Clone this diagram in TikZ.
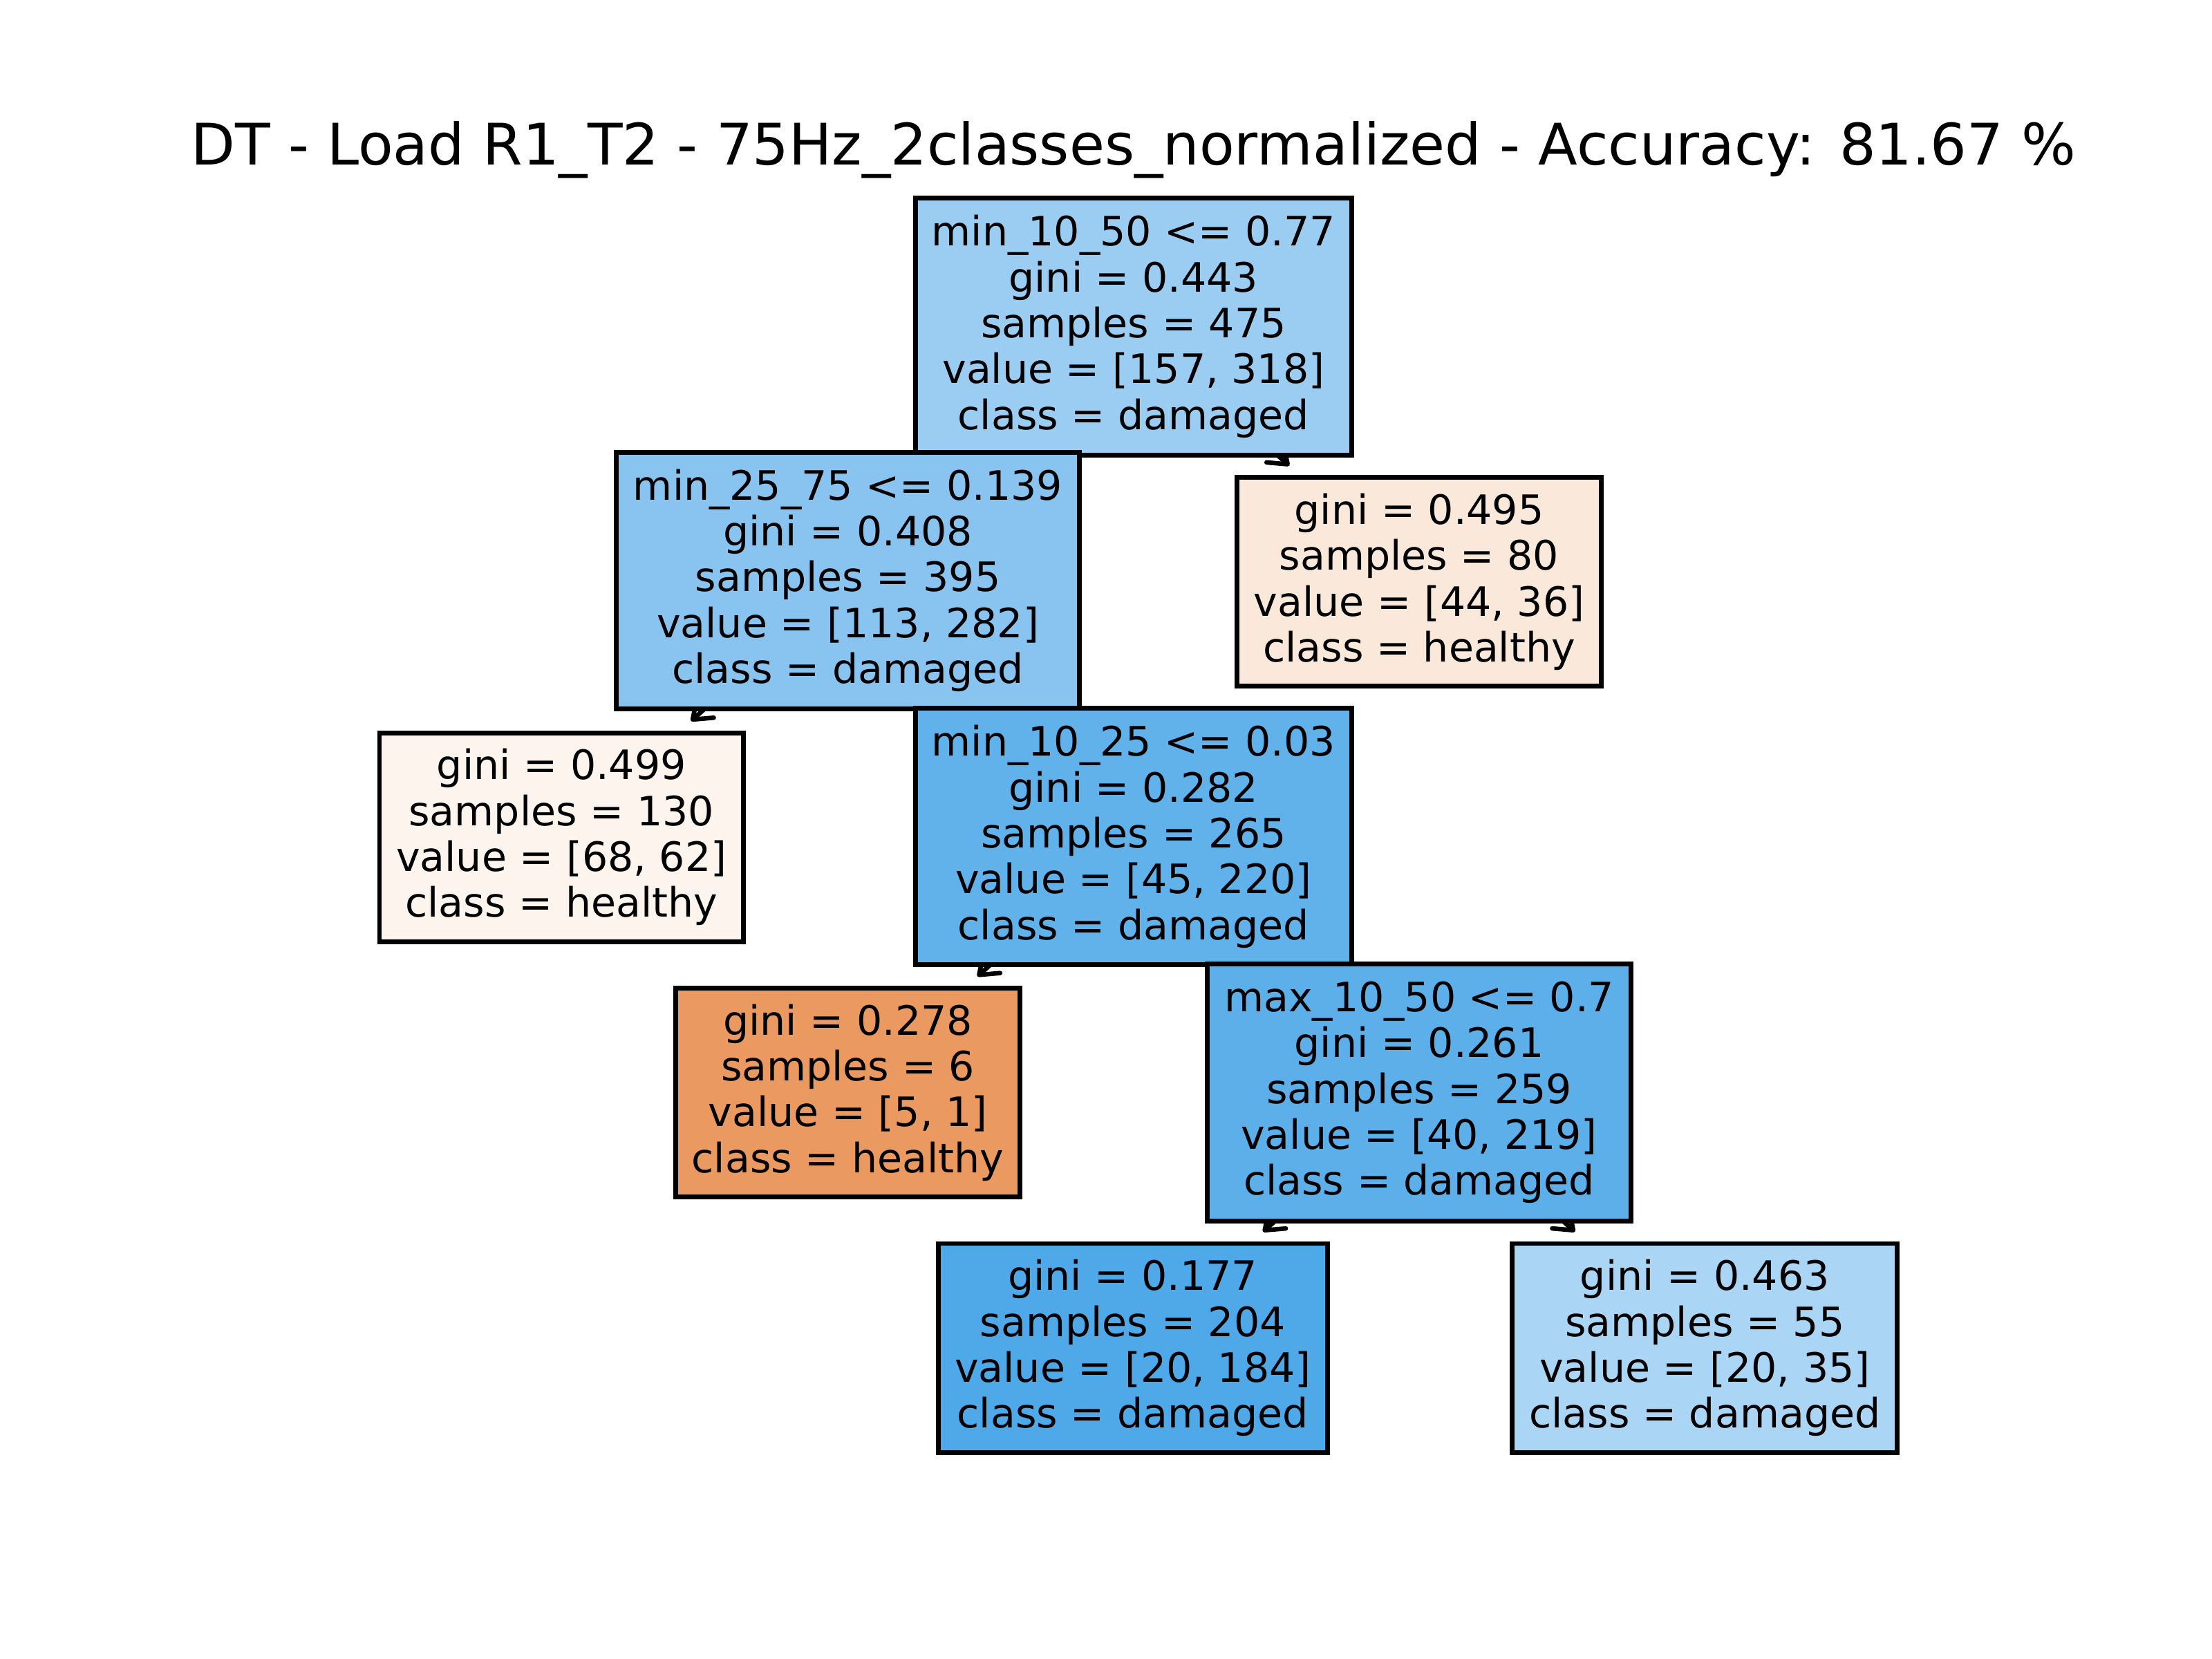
\documentclass[tikz,border=0pt]{standalone}
\usepackage{fontspec}
\setmainfont{DejaVu Sans}
\usetikzlibrary{arrows.meta,backgrounds}
\definecolor{c1}{RGB}{155,205,242}
\definecolor{c2}{RGB}{136,196,239}
\definecolor{c3}{RGB}{250,232,219}
\definecolor{c4}{RGB}{253,244,238}
\definecolor{c5}{RGB}{97,177,234}
\definecolor{c6}{RGB}{234,154,97}
\definecolor{c7}{RGB}{93,175,234}
\definecolor{c8}{RGB}{79,168,232}
\definecolor{c9}{RGB}{170,213,244}
\tikzset{
  box/.style={draw=black, line width=1.7bp, inner sep=0pt, align=center,
    font=\fontsize{14.35bp}{16.25bp}\selectfont},
  big/.style={box, minimum height=91bp},
  small/.style={box, minimum height=74bp},
  edge/.style={line width=1.6bp, line cap=round,
    -{Straight Barb[length=6bp,width=9bp,round]}, shorten >=5bp}
}
\begin{document}
\begin{tikzpicture}[x=0.5bp, y=-0.5bp]
\path[use as bounding box] (0,0) rectangle (1568,1176);
\node[font=\fontsize{20.3bp}{24bp}\selectfont] (title) at (803.5,106) {DT - Load R1\_T2 - 75Hz\_2classes\_normalized - Accuracy: 81.67 \%};
\node[big, fill=c1, minimum width=154.5bp] (n1) at (803.5,231.5) {min\_10\_50 <= 0.77\\gini = 0.443\\samples = 475\\value = [157, 318]\\class = damaged};
\node[big, fill=c2, minimum width=164bp] (n2) at (601,411.5) {min\_25\_75 <= 0.139\\gini = 0.408\\samples = 395\\value = [113, 282]\\class = damaged};
\node[small, fill=c3, minimum width=129bp] (n3) at (1006,412.5) {gini = 0.495\\samples = 80\\value = [44, 36]\\class = healthy};
\node[small, fill=c4, minimum width=129bp] (n4) at (398,593.5) {gini = 0.499\\samples = 130\\value = [68, 62]\\class = healthy};
\node[big, fill=c5, minimum width=154.5bp] (n5) at (803.5,593) {min\_10\_25 <= 0.03\\gini = 0.282\\samples = 265\\value = [45, 220]\\class = damaged};
\node[small, fill=c6, minimum width=122bp] (n6) at (601,774.5) {gini = 0.278\\samples = 6\\value = [5, 1]\\class = healthy};
\node[big, fill=c7, minimum width=150bp] (n7) at (1006,774.5) {max\_10\_50 <= 0.7\\gini = 0.261\\samples = 259\\value = [40, 219]\\class = damaged};
\node[small, fill=c8, minimum width=138bp] (n8) at (803,955.5) {gini = 0.177\\samples = 204\\value = [20, 184]\\class = damaged};
\node[small, fill=c9, minimum width=136.5bp] (n9) at (1208.5,955.5) {gini = 0.463\\samples = 55\\value = [20, 35]\\class = damaged};
\begin{scope}[on background layer]
\fill[white] (0,0) rectangle (1568,1176);
\draw[edge] (n1.center) -- (n2);
\draw[edge] (n1.center) -- (n3);
\draw[edge] (n2.center) -- (n4);
\draw[edge] (n2.center) -- (n5);
\draw[edge] (n5.center) -- (n6);
\draw[edge] (n5.center) -- (n7);
\draw[edge] (n7.center) -- (n8);
\draw[edge] (n7.center) -- (n9);
\end{scope}
\end{tikzpicture}
\end{document}
